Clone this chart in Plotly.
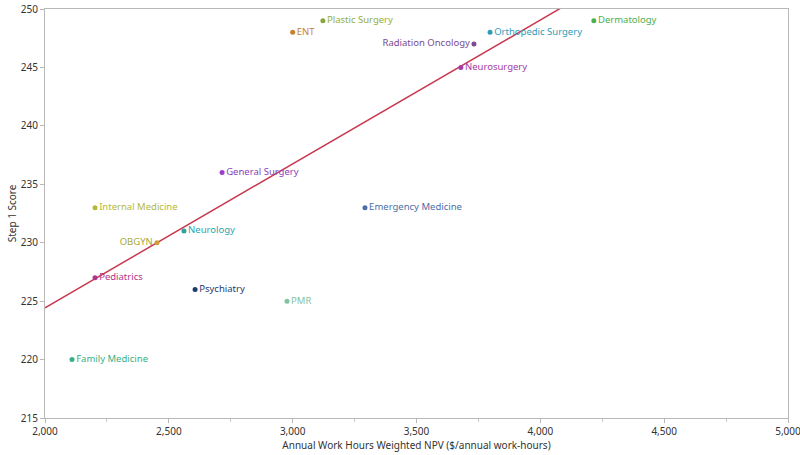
import numpy as np
import plotly.graph_objects as go

specialties = ["Plastic Surgery", "ENT", "Radiation Oncology", "Orthopedic Surgery", "Dermatology",
               "Neurosurgery", "General Surgery", "Internal Medicine", "Emergency Medicine", "Neurology",
               "OBGYN", "Pediatrics", "Psychiatry", "PMR", "Family Medicine"]
npv = [3122, 3000, 3732, 3797, 4216, 3679, 2715, 2202, 3292, 2561, 2452, 2202, 2606, 2977, 2109]
step1 = [249, 248, 247, 248, 249, 245, 236, 233, 233, 231, 230, 227, 226, 225, 220]
colors = ["#8aa83a", "#c8802e", "#7a4a92", "#2f9bb6", "#4caf50", "#a23ca6", "#9a3ecb", "#b5b83a",
          "#4a6ea6", "#2aa69a", "#d29a3a", "#b0358a", "#1f3a6b", "#7fc4a0", "#36b08a"]
text_colors = ["#94ad3c", "#c8802e", "#7a4a92", "#2f9bb6", "#4caf50", "#a23ca6", "#8a3ebb", "#b5b83a",
               "#4a6ea6", "#2aa6b0", "#a8a838", "#b0358a", "#1f3a6b", "#86c4a4", "#36b08a"]
positions = ["middle right"] * len(specialties)
positions[2] = "middle left"
positions[10] = "middle left"

x_ticks = [2000, 2500, 3000, 3500, 4000, 4500, 5000]
y_ticks = [215, 220, 225, 230, 235, 240, 245, 250]

slope, intercept = np.polyfit(npv, step1, 1)
trend_x = np.array([2000, 5000])
trend_y = slope * trend_x + intercept

font = "Noto Sans, Open Sans, sans-serif"
fig = go.Figure()
fig.add_trace(go.Scatter(x=trend_x, y=trend_y, mode="lines",
                         line=dict(color="#c8384f", width=1.5), showlegend=False, hoverinfo="skip"))
fig.add_trace(go.Scatter(x=npv, y=step1, mode="markers+text", text=specialties,
                         textposition=positions,
                         textfont=dict(family=font, size=9.5, color=text_colors),
                         marker=dict(color=colors, size=5), showlegend=False, cliponaxis=False))

fig.update_layout(
    width=800, height=455, paper_bgcolor="white", plot_bgcolor="white",
    margin=dict(l=45, r=12, t=9, b=37, autoexpand=False),
    font=dict(family=font, size=10, color="#333333"),
)
fig.update_xaxes(range=[2000, 5000], tickvals=x_ticks, tickformat=",d", automargin=False,
                 ticklabeloverflow="allow",
                 showgrid=False, zeroline=False, showline=True, linecolor="#b8b8b8", linewidth=1,
                 mirror=True, ticks="outside", ticklen=4, tickcolor="#b8b8b8",
                 minor=dict(ticks="outside", ticklen=3, tickcolor="#c8c8c8", dtick=250, showgrid=False),
                 tickfont=dict(size=10, color="#333333"),
                 title=dict(text="Annual Work Hours Weighted NPV ($/annual work-hours)",
                            font=dict(size=10, color="#333333"), standoff=0))
fig.update_yaxes(range=[215, 250], tickvals=y_ticks, automargin=False,
                 showgrid=False, zeroline=False, showline=True, linecolor="#b8b8b8", linewidth=1,
                 mirror=True, ticks="outside", ticklen=4, tickcolor="#b8b8b8",
                 tickfont=dict(size=10, color="#333333"),
                 title=dict(text="Step 1 Score", font=dict(size=10, color="#333333"), standoff=2))
fig.write_html("out.html", config={"displayModeBar": False},
               post_script="document.body.style.margin='0';")
